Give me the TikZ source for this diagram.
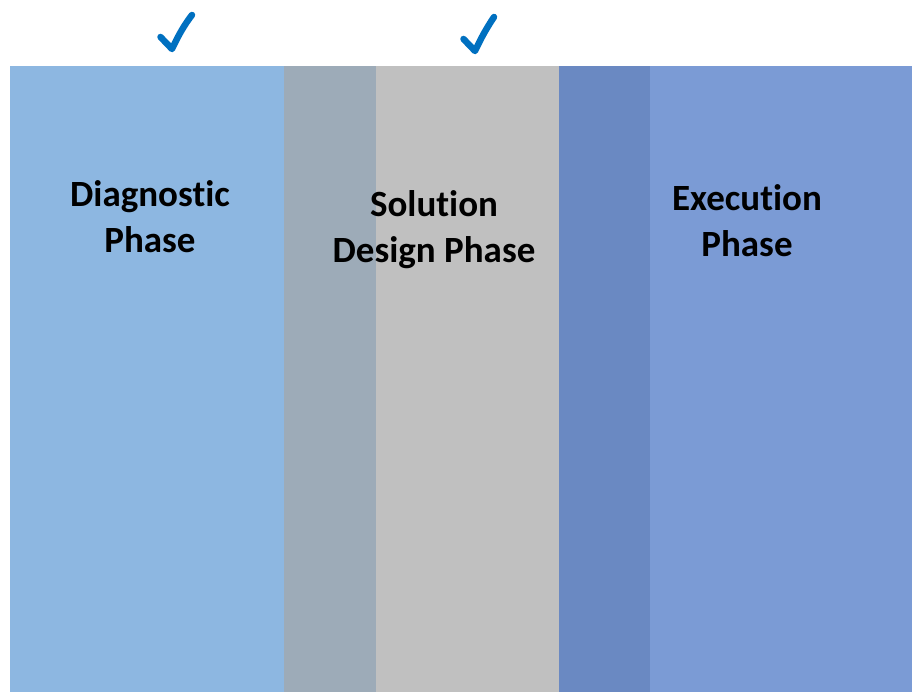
\documentclass[tikz,border=0pt]{standalone}
\usepackage{fontspec}
\setmainfont{Carlito}[Ligatures=CommonOff]
\definecolor{cA}{RGB}{141,183,225}
\definecolor{cAB}{RGB}{157,171,184}
\definecolor{cB}{RGB}{192,192,192}
\definecolor{cBC}{RGB}{106,137,194}
\definecolor{cC}{RGB}{123,155,213}
\definecolor{chk}{RGB}{0,112,192}
\tikzset{
  phase/.style={font=\bfseries\fontsize{37}{46}\selectfont, align=center, text=black, inner sep=0pt},
  tick/.style={draw=chk, line width=6.5pt, line cap=round, line join=round}
}
\begin{document}
\begin{tikzpicture}[x=1pt,y=-1pt]
\useasboundingbox (0,0) rectangle (912,692);
\fill[white] (0,0) rectangle (912,692);
\fill[cA] (10,66) rectangle (284,692);
\fill[cAB] (284,66) rectangle (376,692);
\fill[cB] (376,66) rectangle (559,692);
\fill[cBC] (559,66) rectangle (650,692);
\fill[cC] (650,66) rectangle (912,692);
\node[phase] (diag) at (150,217) {Diagnostic\\Phase};
\node[phase] (sol) at (434,230) {Solution\\Design Phase};
\node[phase] (exe) at (747,221) {Execution\\Phase};
\draw[tick] (160.5,37) -- (172,49) .. controls (179,34) and (185,24) .. (192,15);
\draw[tick] (463.5,39) -- (475,51) .. controls (482,36) and (488,26) .. (494,17);
\end{tikzpicture}
\end{document}
